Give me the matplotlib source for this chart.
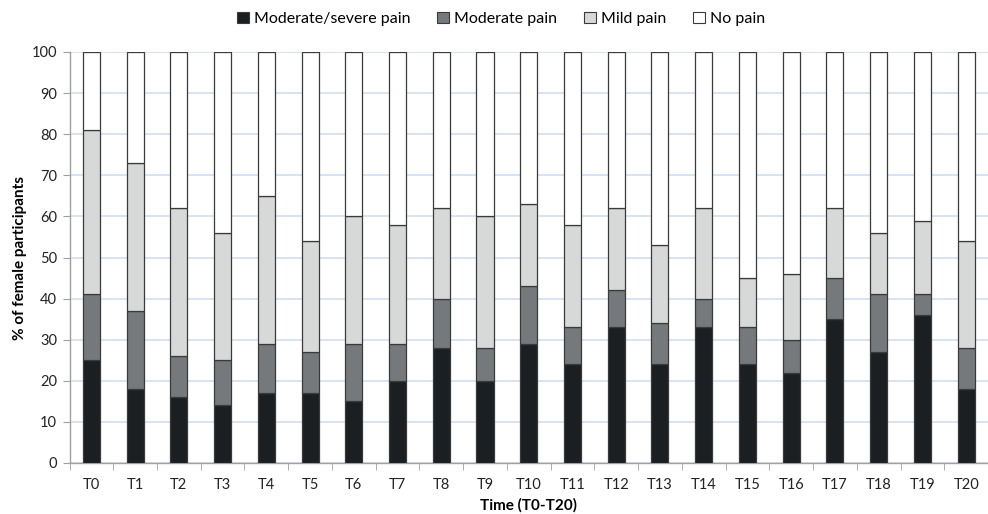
import matplotlib
matplotlib.use("Agg")
import matplotlib.pyplot as plt
import numpy as np
from matplotlib.patches import Patch

plt.rcParams['font.family'] = ['Lato', 'DejaVu Sans']

categories = [f"T{i}" for i in range(21)]
severe = [25, 18, 16, 14, 17, 17, 15, 20, 28, 20, 29, 24, 33, 24, 33, 24, 22, 35, 27, 36, 18]
cum_moderate = [41, 37, 26, 25, 29, 27, 29, 29, 40, 28, 43, 33, 42, 34, 40, 33, 30, 45, 41, 41, 28]
cum_mild = [81, 73, 62, 56, 65, 54, 60, 58, 62, 60, 63, 58, 62, 53, 62, 45, 46, 62, 56, 59, 54]

severe = np.array(severe)
moderate = np.array(cum_moderate) - severe
mild = np.array(cum_mild) - np.array(cum_moderate)
nopain = 100 - np.array(cum_mild)

labels = ["Moderate/severe pain", "Moderate pain", "Mild pain", "No pain"]
colors = ["#1c1f21", "#76797b", "#d7d8d8", "#ffffff"]

W, H = 988, 514
fig = plt.figure(figsize=(W / 100, H / 100), dpi=100)
ax = fig.add_axes([69.5 / W, 1 - 463 / H, (988 - 69.5) / W, (463 - 52) / H])

x = np.arange(len(categories))
bottom = np.zeros(len(categories))
for vals, c, lab in zip([severe, moderate, mild, nopain], colors, labels):
    ax.bar(x, vals, width=0.39, bottom=bottom, color=c, edgecolor="#3a3a3a",
           linewidth=0.9, label=lab, zorder=3)
    bottom = bottom + vals

ax.set_ylim(0, 100)
ax.set_xlim(-0.5, 20.5 - 7 / 44.08)
ax.set_yticks(np.arange(0, 101, 10))
ax.yaxis.grid(True, color="#d3deef", linewidth=1.2, zorder=0)
ax.set_axisbelow(True)

ax.set_xticks(x)
ax.set_xticklabels(categories)
ax.set_xticks(np.arange(-0.5, 21, 1), minor=True)
ax.tick_params(axis='x', which='major', length=0, pad=11, labelsize=10.5, colors="#222222")
ax.tick_params(axis='x', which='minor', length=5, color="#a0a0a0", direction='out')
ax.tick_params(axis='y', length=5, color="#a0a0a0", labelsize=10.5, labelcolor="#222222", pad=4)

for s in ["top", "right"]:
    ax.spines[s].set_visible(False)
for s in ["left", "bottom"]:
    ax.spines[s].set_color("#a0a0a0")
    ax.spines[s].set_linewidth(1.0)

ax.set_ylabel("% of female participants", fontsize=11, fontweight='bold', labelpad=3)
ax.set_xlabel("Time (T0-T20)", fontsize=11, fontweight='bold', labelpad=4)

handles = [Patch(facecolor=c, edgecolor="#3a3a3a", linewidth=0.8) for c in colors]
fig.legend(handles, labels, loc='center', bbox_to_anchor=(501 / W, 1 - 19 / H), ncol=4,
           frameon=False, fontsize=11.5, handlelength=0.75, handleheight=0.75,
           handletextpad=0.3, columnspacing=1.7)

fig.savefig("out.png", dpi=100)
